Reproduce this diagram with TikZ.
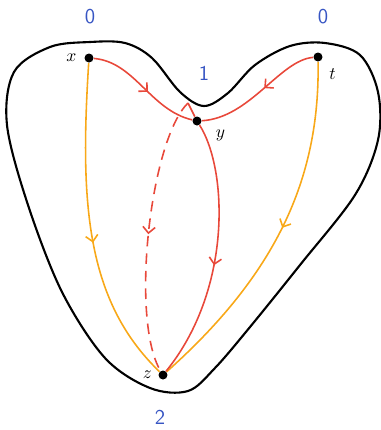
\documentclass[tikz,border=0pt]{standalone}
\usepackage{tikz}
\usetikzlibrary{arrows.meta, decorations.markings, positioning}
\definecolor{pathred}{RGB}{232,72,58}
\definecolor{pathorange}{RGB}{248,168,24}
\definecolor{levelblue}{RGB}{55,85,195}
\tikzstyle{vertex} = [circle, fill=black, inner sep=0pt, minimum size=0.18cm]
\tikzstyle{vlabel} = [inner sep=0pt]
\tikzstyle{level} = [text=levelblue, font=\large\sffamily]
\tikzstyle{boundary} = [line width=1.2pt, black]
\tikzstyle{redpath} = [line width=0.9pt, pathred]
\tikzstyle{orangepath} = [line width=0.9pt, pathorange]
\tikzset{midarrow/.style={postaction={decorate}, decoration={markings, mark=at position #1 with {\arrow{Straight Barb[length=3.5pt,width=7pt]}}}}}

\begin{document}
\begin{tikzpicture}[x=0.02cm, y=-0.02cm]
    \useasboundingbox (0,0) rectangle (380,430);
    \draw [boundary] plot [smooth cycle, tension=0.55] coordinates {
        (7,125) (14,72) (50,47) (90,42) (125,43) (152,58) (180,92) (204,106)
        (228,93) (255,65) (290,46) (325,43) (360,55) (378,92) (378,140)
        (355,195) (300,265) (250,327) (215,368) (188,391) (150,388) (105,358)
        (62,292) (28,205)};

    \node (x) [vertex] at (89,58) {};
    \node (t) [vertex] at (318,57) {};
    \node (y) [vertex] at (197,121) {};
    \node (z) [vertex] at (163,375) {};
    \coordinate (cusp) at (188,103);

    \node (xlab) [vlabel, left=0.15cm of x] {$x$};
    \node (tlab) [vlabel, below right=0.15cm and 0.15cm of t] {$t$};
    \node (ylab) [vlabel, below right=0.1cm and 0.3cm of y] {$y$};
    \node (zlab) [vlabel, left=0.12cm of z] {$z$};

    \node (lvlx) [level] at (90,17) {0};
    \node (lvlt) [level] at (323,17) {0};
    \node (lvly) [level] at (204,73) {1};
    \node (lvlz) [level] at (160,417) {2};

    \draw [orangepath, midarrow=0.55] (x) .. controls (80,200) and (85,300) .. (z);
    \draw [orangepath, midarrow=0.48] (t) .. controls (320,180) and (275,275) .. (z);
    \draw [redpath, midarrow=0.55] (x) .. controls (135,62) and (150,110) .. (y);
    \draw [redpath, midarrow=0.45] (t) .. controls (280,60) and (250,118) .. (y);
    \draw [redpath] (cusp) -- (y);
    \draw [redpath, midarrow=0.55] (y) .. controls (228,170) and (232,290) .. (z);
    \draw [redpath, dash pattern=on 6pt off 4pt, midarrow=0.5] (cusp) .. controls (150,140) and (130,320) .. (z);
\end{tikzpicture}
\end{document}
